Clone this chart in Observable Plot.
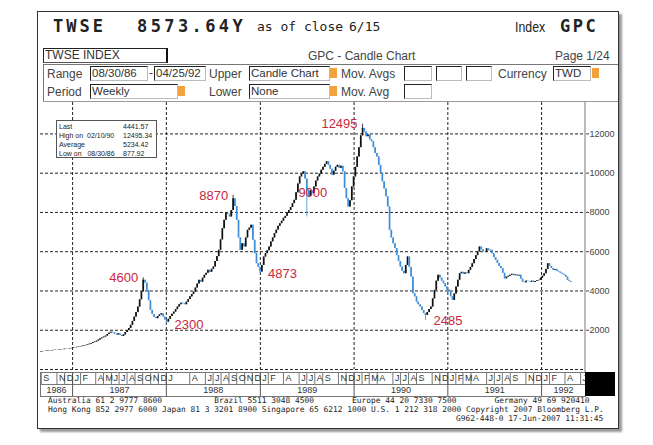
<!DOCTYPE html>
<html><head><meta charset="utf-8">
<script src="https://cdn.jsdelivr.net/npm/d3@7"></script>
<script src="https://cdn.jsdelivr.net/npm/@observablehq/plot@0.6"></script>
<style>
body{margin:0;background:#fff;}
#wrap{position:relative;width:653px;height:445px;overflow:hidden;background:#fff;font-family:"Liberation Sans",Arial,sans-serif;color:#222;}
#screen{position:absolute;left:37px;top:11px;width:580px;height:416px;border:1px solid #333;box-shadow:3px 3px 2px #999;background:#fff;}
.t{position:absolute;white-space:pre;line-height:1;}
.box{position:absolute;border-top:1px solid #222;border-left:1px solid #222;border-bottom:1px solid #bbb;border-right:1px solid #bbb;background:#fff;font-size:11.5px;color:#333;line-height:13px;padding-left:1px;box-sizing:border-box;height:15px;}
.dd{position:absolute;width:7px;height:10px;background:#f2a23c;}
.lab{position:absolute;font-size:12px;color:#444;line-height:1;}
.hl{position:absolute;background:#333;}
#chart,#strip{position:absolute;left:0;}
#stats{position:absolute;left:56px;top:120px;width:101px;height:38px;border:1px solid #555;background:#fff;font-size:7px;line-height:9px;color:#222;box-sizing:border-box;padding:1px 2px;}
#stats div{position:relative;height:9px;}
#stats span{position:absolute;left:64px;}
.foot{position:absolute;font-family:"DejaVu Sans Mono",monospace;font-size:7.9px;white-space:pre;color:#222;line-height:1;}
</style></head>
<body>
<div id="wrap">
  <div id="screen"></div>
  <div class="t" style="left:53px;top:18px;font-family:'DejaVu Sans Mono';font-weight:bold;font-size:17px;letter-spacing:3px;">TWSE</div>
  <div class="t" style="left:137px;top:18px;font-family:'DejaVu Sans Mono';font-weight:bold;font-size:17px;letter-spacing:3.4px;">8573.64Y</div>
  <div class="t" style="left:257px;top:20px;font-family:'DejaVu Sans Mono';font-size:13px;">as of close</div>
  <div class="t" style="left:349px;top:20px;font-family:'DejaVu Sans Mono';font-size:13px;">6/15</div>
  <div class="t" style="left:515px;top:20px;font-size:14px;transform:scaleX(0.88);transform-origin:left;">Index</div>
  <div class="t" style="left:560px;top:18px;font-family:'DejaVu Sans Mono';font-weight:bold;font-size:17px;letter-spacing:2.5px;">GPC</div>

  <div class="box" style="left:43px;top:48px;width:125px;border-right:2px solid #111;border-bottom:1px solid #555;font-size:12px;">TWSE INDEX</div>
  <div class="lab" style="left:308px;top:50px;">GPC - Candle Chart</div>
  <div class="lab" style="left:555px;top:50px;">Page 1/24</div>
  <div class="hl" style="left:43px;top:64px;width:575px;height:1px;background:#777;"></div>
  <div class="hl" style="left:43px;top:64px;width:1px;height:38px;background:#777;"></div>

  <div class="lab" style="left:47px;top:68px;">Range</div>
  <div class="box" style="left:90px;top:66px;width:58px;">08/30/86</div>
  <div class="lab" style="left:149px;top:67px;">-</div>
  <div class="box" style="left:154px;top:66px;width:52px;">04/25/92</div>
  <div class="lab" style="left:209px;top:68px;">Upper</div>
  <div class="box" style="left:249px;top:66px;width:81px;">Candle Chart</div>
  <div class="dd" style="left:330px;top:68px;"></div>
  <div class="lab" style="left:341px;top:68px;">Mov. Avgs</div>
  <div class="box" style="left:404px;top:66px;width:28px;"></div>
  <div class="box" style="left:436px;top:66px;width:26px;"></div>
  <div class="box" style="left:466px;top:66px;width:26px;"></div>
  <div class="lab" style="left:498px;top:68px;">Currency</div>
  <div class="box" style="left:553px;top:66px;width:38px;">TWD</div>
  <div class="dd" style="left:592px;top:68px;"></div>

  <div class="lab" style="left:47px;top:86px;">Period</div>
  <div class="box" style="left:90px;top:84px;width:88px;">Weekly</div>
  <div class="dd" style="left:178px;top:86px;"></div>
  <div class="lab" style="left:209px;top:86px;">Lower</div>
  <div class="box" style="left:249px;top:84px;width:81px;">None</div>
  <div class="dd" style="left:330px;top:86px;"></div>
  <div class="lab" style="left:341px;top:86px;">Mov. Avg</div>
  <div class="box" style="left:404px;top:84px;width:28px;"></div>
  <div class="hl" style="left:43px;top:101px;width:575px;height:1px;background:#999;"></div>

  <div id="chart" style="top:96px;"></div>
  <div class="hl" style="left:584px;top:102px;width:2px;height:270px;background:#bbb;"></div>
  <div id="strip" style="top:370px;"></div>
  <div class="hl" style="left:585px;top:372px;width:30px;height:24px;background:#000;"></div>

  <div id="stats">
    <div>Last<span>4441.57</span></div>
    <div>High on&nbsp; 02/10/90<span>12495.34</span></div>
    <div>Average<span>5234.42</span></div>
    <div>Low on&nbsp;&nbsp; 08/30/86<span>877.92</span></div>
  </div>

  <div class="foot" style="left:48px;top:397px;">Australia 61 2 9777 8600           Brazil 5511 3048 4500        Europe 44 20 7330 7500        Germany 49 69 920410</div>
  <div class="foot" style="left:48px;top:406px;">Hong Kong 852 2977 6000 Japan 81 3 3201 8900 Singapore 65 6212 1000 U.S. 1 212 318 2000 Copyright 2007 Bloomberg L.P.</div>
  <div class="foot" style="left:456px;top:415px;">G962-448-0 17-Jun-2007 11:31:45</div>
</div>
<script>
// ---- Weekly closes, week 1 = 08/30/86 ----
const w1986 = [900,920,915,935,950,940,960,975,990,985,1000,1020,1010,1030,1045,1040,1060,1075];
const w1987 = [1100,1110,1130,1150,1165,1190,1210,1230,1260,1290,1330,1370,1400,1440,1500,1560,1610,1650,1700,1780,1850,1900,1870,1800,1760,1820,1740,1680,1760,1880,1980,2090,2250,2450,2670,2900,3180,3550,3950,4550,4400,4030,3500,3010,2800,2650,2590,2700,2780,2840,2670,2520];
const w1988 = [2415,2560,2700,2820,2925,3050,3180,3300,3380,3350,3300,3430,3560,3700,3820,3940,4150,4350,4540,4450,4650,4800,4900,5050,4950,5100,5220,5500,5750,6070,6600,7170,7600,7940,7900,7770,8100,8700,8300,7600,6700,6070,6400,6240,6700,7090,7200,7350,6580,5900,5390,5200,4960];
const w1989 = [5300,5730,5900,6050,6240,6500,6700,6920,7100,7300,7430,7550,7700,7800,7940,8100,8250,8450,8620,9000,9450,9810,9950,10070,9700,9130,8800,9100,8960,9300,9600,9810,9950,10150,10300,10450,10580,10400,10200,9900,10100,10300,10400,10250,10350,10070,9220,8700,8280,8600,9300,9810];
const w1990 = [10300,10830,11300,11900,12280,12100,11860,11950,11700,11600,11300,11000,10830,10400,10000,9560,9200,8800,8280,7090,6700,6400,6160,5800,5500,5220,5000,4880,5300,5730,5200,4710,3860,3700,3430,3300,3180,3000,2850,2755,2900,3050,3180,3600,4030,4500,4800,4650,4500,4370,4200,4050];
const w1991 = [3940,3700,3520,3850,4200,4550,4880,4950,4850,4920,4880,5050,5200,5390,5600,5800,5990,6240,6100,6000,5990,6150,6050,6070,5900,5700,5560,5400,5250,5130,4900,4620,4700,4750,4800,4850,4780,4820,4760,4800,4600,4450,4420,4500,4480,4450,4500,4430,4480,4520,4540,4650];
const w1992 = [4750,4880,5100,5390,5250,5150,5050,5100,5000,4960,4900,4850,4800,4700,4540,4480,4442];
const firstOpen = 878;

// wick extremes (week number, value)
const highWeeks = [57, 107, 179];
const highValues = [4673, 8870, 12495];
const lowWeeks = [0, 70, 122, 148, 214];
const lowValues = [878, 2298, 4873, 7770, 2485];

// annotations
const noteText = ["4600", "2300", "8870", "4873", "9000", "12495", "2485"];
const noteWeeks = [57, 70, 107, 122, 148, 179, 214];
const noteValues = [4673, 2298, 8870, 4873, 9000, 12495, 2485];
const noteSide = ["end", "start", "end", "start", "middle", "end", "start"];

const yTicks = [0, 2000, 4000, 6000, 8000, 10000, 12000];
const yLabels = [2000, 4000, 6000, 8000, 10000, 12000];
const gridYears = [1987, 1988, 1989, 1990, 1991, 1992];
const stripYears = [1986, 1987, 1988, 1989, 1990, 1991, 1992];
const monthLetters = ["J","F","M","A","M","J","J","A","S","O","N","D"];
const shownMonths = {
  1986: [8, 10, 11],
  1987: [0, 1, 3, 4, 5, 6, 7, 8, 9, 10, 11],
  1988: [0, 3, 5, 6, 7, 8, 9, 10, 11],
  1989: [0, 1, 3, 5, 6, 7, 8, 10, 11],
  1990: [0, 1, 2, 3, 5, 6, 7, 8, 10, 11],
  1991: [0, 1, 2, 3, 5, 6, 7, 8, 10, 11],
  1992: [0, 1, 3, 5]
};

// ---- build tables ----
const start = new Date(1986, 7, 30);
const closes = [...w1986, ...w1987, ...w1988, ...w1989, ...w1990, ...w1991, ...w1992];
const candles = closes.map((c, i) => {
  const o = i === 0 ? firstOpen : closes[i - 1];
  let hi = Math.max(o, c), lo = Math.min(o, c);
  const hk = highWeeks.indexOf(i); if (hk >= 0) hi = Math.max(hi, highValues[hk]);
  const lk = lowWeeks.indexOf(i); if (lk >= 0) lo = Math.min(lo, lowValues[lk]);
  return {date: d3.timeDay.offset(start, 7 * i), open: o, close: c, high: hi, low: lo, up: c >= o};
});
const notes = noteText.map((t, k) => ({text: t, date: d3.timeDay.offset(start, 7 * noteWeeks[k]), value: noteValues[k], side: noteSide[k]}));
const gridDates = gridYears.map(y => new Date(y, 0, 1));

const xDomain = [new Date(1986, 7, 29), new Date(1992, 5, 20)];
const W = 653, ML = 40, MR = 68;
const UP = "#111", DOWN = "#3d8ed8", RED = "#c9283e", GRID = "#222";
const noteDx = {end: -5, start: 8, middle: 6};

const chart = Plot.plot({
  width: W, height: 279,
  marginLeft: ML, marginRight: MR, marginTop: 6, marginBottom: 6,
  x: {type: "time", domain: xDomain, axis: null},
  y: {domain: [0, 13600], axis: null},
  style: {fontFamily: "Liberation Sans, Arial, sans-serif", background: "transparent"},
  marks: [
    Plot.ruleY(yTicks, {y: d => d, stroke: GRID, strokeWidth: 1, strokeDasharray: "3 2"}),
    Plot.ruleX(gridDates, {x: d => d, stroke: GRID, strokeWidth: 1, strokeDasharray: "3 2"}),
    Plot.axisY(yLabels, {anchor: "right", tickSize: 3, tickPadding: 1, fontSize: 9, tickFormat: d3.format("d"), label: null, color: "#444"}),
    Plot.ruleX(candles, {x: "date", y1: "low", y2: "high", stroke: d => d.up ? UP : DOWN, strokeWidth: 0.8}),
    Plot.ruleX(candles, {x: "date", y1: "open", y2: "close", stroke: d => d.up ? UP : DOWN, strokeWidth: 1.7}),
    ...["end", "start", "middle"].map(side =>
      Plot.text(notes.filter(d => d.side === side), {x: "date", y: "value", text: "text", textAnchor: side, dx: noteDx[side], fill: RED, fontSize: 13}))
  ]
});
document.getElementById("chart").appendChild(chart);

// ---- month / year strip ----
const monthMarks = [];
stripYears.forEach(y => shownMonths[y].forEach(m => monthMarks.push({date: new Date(y, m, 1), letter: monthLetters[m]})));
const yearMid = stripYears.map(y => {
  const a = Math.max(+new Date(y, 0, 1), +xDomain[0]);
  const b = Math.min(+new Date(y + 1, 0, 1), +xDomain[1]);
  return {year: String(y), date: new Date((a + b) / 2)};
});

const strip = Plot.plot({
  width: W, height: 28,
  marginLeft: ML, marginRight: MR, marginTop: 2, marginBottom: 2,
  x: {type: "time", domain: xDomain, axis: null},
  y: {domain: [0, 2], axis: null},
  style: {fontFamily: "Liberation Sans, Arial, sans-serif", background: "transparent"},
  marks: [
    Plot.frame({stroke: "#777"}),
    Plot.ruleY([1], {y: d => d, stroke: "#777"}),
    Plot.ruleX(monthMarks, {x: "date", y1: 1, y2: 2, stroke: "#777"}),
    Plot.ruleX(gridDates, {x: d => d, stroke: "#555"}),
    Plot.text(monthMarks, {x: "date", y: 1.5, text: "letter", textAnchor: "start", dx: 2, fontSize: 9, fill: "#333"}),
    Plot.text(yearMid, {x: "date", y: 0.5, text: "year", fontSize: 9, fill: "#333"})
  ]
});
document.getElementById("strip").appendChild(strip);
</script>
</body></html>
